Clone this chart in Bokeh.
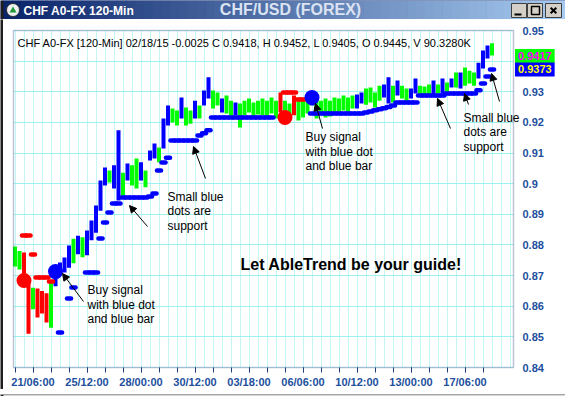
import numpy as np
from bokeh.plotting import figure
from bokeh.layouts import column, row
from bokeh.models import (ColumnDataSource, FixedTicker, Range1d, Label, Arrow, NormalHead,
                          CustomJSTickFormatter, BoxAnnotation)
from bokeh.core.properties import value
from bokeh.embed import file_html
from bokeh.resources import INLINE

# ---------------- data ----------------
tick_positions = [4, 16, 28, 40, 52, 64, 76, 88, 100]
tick_labels = ["21/06:00", "25/12:00", "28/00:00", "30/12:00", "03/18:00",
               "06/06:00", "10/12:00", "13/00:00", "17/06:00"]
price_ticks = [0.84, 0.85, 0.86, 0.87, 0.88, 0.89, 0.90, 0.91, 0.92, 0.93, 0.94, 0.95]

high = [0.8795, 0.8780, 0.8775, 0.8680, 0.8660, 0.8658, 0.8650, 0.8642, 0.8680, 0.8725,
        0.8743, 0.8759, 0.8798, 0.8820, 0.8830, 0.8825, 0.8847, 0.8880, 0.8929, 0.9010,
        0.9053, 0.9043, 0.9060, 0.9174, 0.9036, 0.9066, 0.9060, 0.9082, 0.9070, 0.9043,
        0.9108, 0.9131, 0.9118, 0.9213, 0.9255, 0.9245, 0.9239, 0.9281, 0.9249, 0.9239,
        0.9271, 0.9255, 0.9304, 0.9347, 0.9304, 0.9298, 0.9278, 0.9288, 0.9271, 0.9265,
        0.9262, 0.9271, 0.9278, 0.9265, 0.9271, 0.9278, 0.9271, 0.9281, 0.9271, 0.9298,
        0.9271, 0.9262, 0.9288, 0.9281, 0.9271, 0.9288, 0.9298, 0.9281, 0.9271, 0.9278,
        0.9271, 0.9281, 0.9278, 0.9288, 0.9281, 0.9288, 0.9291, 0.9298, 0.9311, 0.9314,
        0.9298, 0.9320, 0.9324, 0.9347, 0.9320, 0.9337, 0.9320, 0.9311, 0.9311, 0.9343,
        0.9320, 0.9317, 0.9324, 0.9337, 0.9324, 0.9343, 0.9330, 0.9343, 0.9363, 0.9363,
        0.9379, 0.9369, 0.9363, 0.9395, 0.9435, 0.9451, 0.9458]

low = [0.8730, 0.8720, 0.8670, 0.8510, 0.8590, 0.8563, 0.8576, 0.8547, 0.8530, 0.8665,
       0.8700, 0.8710, 0.8726, 0.8740, 0.8770, 0.8760, 0.8766, 0.8815, 0.8840, 0.8912,
       0.8994, 0.9004, 0.8984, 0.8945, 0.8952, 0.9010, 0.8994, 0.8984, 0.9010, 0.8988,
       0.9076, 0.9082, 0.9070, 0.9115, 0.9190, 0.9200, 0.9190, 0.9213, 0.9190, 0.9196,
       0.9213, 0.9213, 0.9255, 0.9278, 0.9245, 0.9255, 0.9232, 0.9229, 0.9213, 0.9223,
       0.9183, 0.9223, 0.9232, 0.9216, 0.9226, 0.9223, 0.9216, 0.9229, 0.9213, 0.9232,
       0.9206, 0.9213, 0.9223, 0.9206, 0.9216, 0.9229, 0.9255, 0.9213, 0.9223, 0.9216,
       0.9219, 0.9232, 0.9229, 0.9239, 0.9232, 0.9245, 0.9245, 0.9262, 0.9258, 0.9265,
       0.9249, 0.9271, 0.9281, 0.9262, 0.9265, 0.9288, 0.9278, 0.9262, 0.9278, 0.9294,
       0.9288, 0.9284, 0.9288, 0.9288, 0.9294, 0.9294, 0.9298, 0.9314, 0.9314, 0.9311,
       0.9320, 0.9327, 0.9320, 0.9343, 0.9376, 0.9409, 0.9418]

# g = green bar, b = blue bar, r = red bar
trend = ["g", "g", "r", "r", "g", "r", "r", "r", "g", "b",
         "b", "b", "b", "g", "b", "g", "b", "b", "b", "b",
         "b", "g", "b", "b", "g", "b", "g", "g", "b", "g",
         "b", "b", "g", "b", "b", "g", "g", "b", "g", "g",
         "b", "g", "b", "b", "g", "g", "b", "g", "g", "b",
         "g", "g", "g", "g", "g", "g", "g", "g", "g", "r",
         "g", "g", "r", "g", "g", "g", "b", "g", "g", "g",
         "g", "g", "g", "g", "g", "g", "b", "b", "g", "g",
         "g", "g", "b", "b", "g", "b", "g", "g", "b", "b",
         "g", "g", "g", "b", "g", "b", "g", "b", "g", "b",
         "g", "g", "g", "b", "b", "b", "g"]

support = [None, None, None, None, None, None, None, None, None, None,
           0.8514, None, 0.8625, 0.8661, None, None, 0.8710, 0.8710, 0.8710, 0.8821,
           0.8873, 0.8906, 0.8935, 0.8935, 0.8955, 0.8955, 0.8955, 0.8955, 0.8955, 0.8955,
           0.8958, 0.8968, 0.9043, 0.9069, 0.9085, 0.9141, 0.9141, 0.9141, 0.9141, 0.9141,
           0.9141, 0.9157, 0.9165, 0.9174, 0.9216, 0.9216, 0.9216, 0.9216, 0.9216, 0.9216,
           0.9216, 0.9216, 0.9216, 0.9216, 0.9216, 0.9216, 0.9216, 0.9216, None, None,
           None, None, None, None, None, None, 0.9229, 0.9229, 0.9229, 0.9229,
           0.9229, 0.9229, 0.9229, 0.9229, 0.9229, 0.9229, 0.9229, 0.9229, 0.9232, 0.9236,
           0.9240, 0.9243, 0.9246, 0.9250, 0.9255, 0.9265, 0.9265, 0.9265, 0.9265, 0.9265,
           0.9288, 0.9288, 0.9288, 0.9288, 0.9288, 0.9288, 0.9294, 0.9294, 0.9294, 0.9294,
           0.9294, 0.9294, 0.9294, 0.9305, 0.9327, 0.9350, 0.9373]

resistance_bar = [2, 3, 4, 5, 6, 7, 8, 60, 61, 62, 63, 64]
resistance_price = [0.8831, 0.8831, 0.8769, 0.8694, 0.8694, 0.8694, 0.8681,
                    0.9298, 0.9298, 0.9298, 0.9275, 0.9275]

sell_bar = [2, 60]
sell_price = [0.8684, 0.9216]
buy_bar = [9, 66]
buy_price = [0.8713, 0.9281]

last_close = 0.9417
last_support = 0.9373
header = "CHF A0-FX [120-Min] 02/18/15  -0.0025 C 0.9418, H 0.9452, L 0.9405, O 0.9445, V 90.3280K"
window_title = "CHF A0-FX 120-Min"
chart_title = "CHF/USD (FOREX)"

# ---------------- geometry (page pixels) ----------------
W, H = 565, 396
TITLE_H = 19
LEFT_W = 3
BOTTOM_H = 7
MAIN_W, MAIN_H = W - LEFT_W, H - TITLE_H - BOTTOM_H
FL, FR, FT, FB = 13, 513, 30, 367      # visible plot box on the page
BAR_PX, X0_PX = 4.5, 14.5
YMIN, YMAX = 0.84, 0.95

def xd(px):
    return (px - X0_PX) / BAR_PX

def yd(py):
    return YMAX - (py - FT) * (YMAX - YMIN) / (FB - FT)

FONT = "Liberation Sans"
TEXT_BLUE = "#1d4f9e"
FRAME_BLUE = "#1f3f7f"
COLORS = {"g": "#00ff00", "b": "#0000ff", "r": "#ff0000"}


def deco_fig(w, h, bg):
    f = figure(width=w, height=h, x_range=Range1d(0, w), y_range=Range1d(h, 0),
               output_backend="svg", toolbar_location=None, x_axis_location=None,
               y_axis_location=None, min_border=0)
    f.grid.visible = False
    f.outline_line_color = None
    f.background_fill_color = bg
    f.border_fill_color = bg
    return f

# ---------------- title bar ----------------
tb = deco_fig(W, TITLE_H, "#0a246a")
c0 = np.array([10, 36, 106])
c1 = np.array([166, 202, 240])
n = 64
edges = np.linspace(LEFT_W, W, n + 1)
cols = ["#%02x%02x%02x" % tuple((c0 + (c1 - c0) * k / (n - 1)).astype(int)) for k in range(n)]
tb.quad(left=edges[:-1] - 0.3, right=edges[1:] + 0.3, top=0, bottom=TITLE_H,
        fill_color=cols, line_color=None)
tb.quad(left=0, right=LEFT_W, top=0, bottom=TITLE_H, fill_color="#1e1e1e", line_color=None)
tb.scatter([12.5], [9.5], size=13, fill_color="#eef0f2", line_color="#303030")
tb.scatter([12.5], [10], marker="triangle", size=7, fill_color="#1f9a3a", line_color=None)
tb.text([23], [10], text=[window_title], text_font=value(FONT), text_font_size="12px",
        text_font_style="bold", text_color="white", text_baseline="middle")
tb.text([290], [9], text=[chart_title], text_font=value(FONT), text_font_size="16px",
        text_font_style="bold", text_color="#dbe3f3", text_baseline="middle",
        text_align="center")
tb.quad(left=[511, 527, 545], right=[526, 542, 561], top=3, bottom=17,
        fill_color="#d4d0c8", line_color="#404040")
tb.quad(left=514, right=521, top=13, bottom=15, fill_color="black", line_color=None)
tb.quad(left=531, right=539, top=6, bottom=14, fill_color=None, line_color="black",
        line_width=1.5)
tb.scatter([553], [10], marker="x", size=8, line_color="black", line_width=2)

# ---------------- side strips ----------------
lb = deco_fig(LEFT_W, MAIN_H, "#1e1e1e")
bb = deco_fig(W, BOTTOM_H, "#2a2a2a")
bb.quad(left=LEFT_W, right=W, top=0, bottom=3, fill_color="#d6d6d6", line_color=None)

# ---------------- main chart ----------------
# frame fills the whole panel; both axes are pinned to the sides of the plot box
p = figure(width=MAIN_W, height=MAIN_H,
           x_range=Range1d(xd(LEFT_W), xd(W)),
           y_range=Range1d(yd(H - BOTTOM_H), yd(TITLE_H)),
           output_backend="svg", toolbar_location=None, y_axis_location="right",
           min_border=0)
p.background_fill_color = "white"
p.border_fill_color = "white"
p.outline_line_color = None

p.xgrid.ticker = FixedTicker(ticks=list(range(0, 112, 2)))
p.xgrid.grid_line_color = "#c4f6f6"
p.ygrid.ticker = FixedTicker(ticks=price_ticks)
p.ygrid.grid_line_color = "#9ff0f0"

# white margins around the plot box (cover grid lines there)
for kw in [dict(left=xd(FR)), dict(right=xd(FL)), dict(bottom=yd(FT)), dict(top=yd(FB))]:
    p.add_layout(BoxAnnotation(fill_color="white", fill_alpha=1.0, line_color=None,
                               level="underlay", **kw))

xa = p.xaxis[0]
xa.fixed_location = yd(FB)
xa.ticker = FixedTicker(ticks=tick_positions, minor_ticks=list(range(0, 108, 4)))
xa.major_label_overrides = {t: l for t, l in zip(tick_positions, tick_labels)}
xa.axis_line_color = None
xa.major_tick_line_color = FRAME_BLUE
xa.minor_tick_line_color = FRAME_BLUE
xa.major_tick_out = 5
xa.major_tick_in = 0
xa.minor_tick_out = 5
xa.minor_tick_in = 0
xa.major_label_standoff = 3
xa.major_label_text_font = FONT
xa.major_label_text_font_size = "11px"
xa.major_label_text_font_style = "bold"
xa.major_label_text_color = TEXT_BLUE

ya = p.yaxis[0]
ya.fixed_location = xd(FR)
ya.ticker = FixedTicker(ticks=price_ticks)
ya.formatter = CustomJSTickFormatter(code="return String(Math.round(tick*100)/100)")
ya.axis_line_color = None
ya.major_tick_line_color = None
ya.minor_tick_line_color = None
ya.major_tick_out = 0
ya.major_tick_in = 0
ya.minor_tick_out = 0
ya.minor_tick_in = 0
ya.major_label_standoff = 9
ya.major_label_text_font = FONT
ya.major_label_text_font_size = "11px"
ya.major_label_text_font_style = "bold"
ya.major_label_text_color = TEXT_BLUE

idx = np.arange(len(high))
bars = ColumnDataSource(dict(x=idx, hi=high, lo=low, c=[COLORS[t] for t in trend]))
p.segment(x0="x", y0="lo", x1="x", y1="hi", color="c", line_width=4, source=bars)

sup = np.array([np.nan if v is None else v for v in support])
p.segment(x0=idx - 0.45, x1=idx + 0.45, y0=sup, y1=sup, line_color="#0000ff",
          line_width=4.5, line_cap="round")
rb = np.array(resistance_bar)
p.segment(x0=rb - 0.45, x1=rb + 0.45, y0=resistance_price, y1=resistance_price,
          line_color="#ff0000", line_width=4.5, line_cap="round")

p.scatter(sell_bar, sell_price, size=15, fill_color="#ff0000", line_color=None)
p.scatter(buy_bar, buy_price, size=15, fill_color="#0000ff", line_color=None)

# plot box outline
p.add_layout(BoxAnnotation(left=xd(FL), right=xd(FR), top=yd(FT), bottom=yd(FB),
                           fill_color=None, fill_alpha=0,
                           line_color=FRAME_BLUE, line_width=1.5))


def dlabel(px, py, text, size="12px", bold=False, color="black"):
    p.add_layout(Label(x=xd(px), y=yd(py), text=text, text_font=FONT, text_font_size=size,
                       text_font_style="bold" if bold else "normal", text_color=color,
                       text_baseline="middle", text_align="left"))

dlabel(17, 42, header, size="11px")
dlabel(240, 264, "Let AbleTrend be your guide!", size="16px", bold=True)

for (px, py) in [(87, 289), (305, 136)]:
    dlabel(px, py, "Buy signal")
    dlabel(px, py + 15, "with blue dot")
    dlabel(px, py + 29, "and blue bar")
for (px, py) in [(167, 196), (463, 117)]:
    dlabel(px, py, "Small blue")
    dlabel(px, py + 14, "dots are")
    dlabel(px, py + 29, "support")

for (x1, y1, x2, y2) in [(83, 301, 62, 273), (147, 226, 129, 205), (205, 178, 193, 146),
                         (322, 128, 315, 103), (450, 128, 437, 98), (468, 104, 464, 93),
                         (499, 101, 491, 73)]:
    p.add_layout(Arrow(x_start=xd(x1), y_start=yd(y1), x_end=xd(x2), y_end=yd(y2),
                       line_color="black", line_width=1,
                       end=NormalHead(size=7, fill_color="black", line_color="black")))

# last close / last support boxes on the price scale
for v, fg, bg in [(last_close, "#ff00ff", "#00ff00"), (last_support, "#ffff00", "#0000ff")]:
    p.add_layout(Label(x=xd(FR + 1.5), y=v, text=f"{v:.4f}", text_font=FONT,
                       text_font_size="11px", text_font_style="bold", text_color=fg,
                       background_fill_color=bg, background_fill_alpha=1.0,
                       text_baseline="middle", padding=3))

layout = column(tb, row(lb, p), bb)
open("out.html", "w").write(file_html(layout, INLINE))
